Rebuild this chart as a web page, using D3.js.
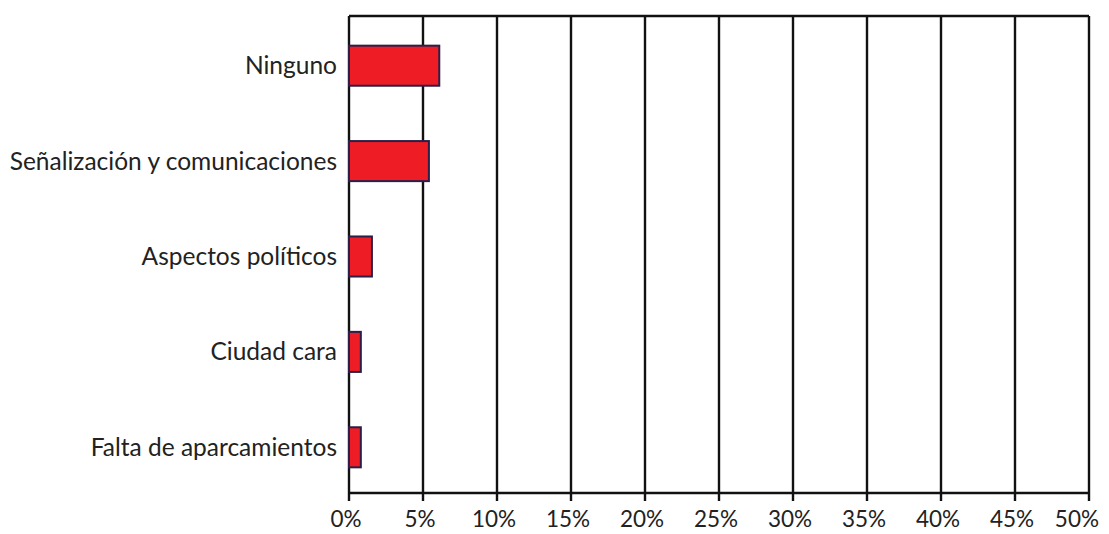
<!DOCTYPE html>
<html>
<head>
<meta charset="utf-8">
<script src="https://cdn.jsdelivr.net/npm/d3@7"></script>
<style>
  body { margin: 0; background: #fff; }
  svg { display: block; }
</style>
</head>
<body>
<div id="chart"></div>
<script>
const categories = ["Ninguno", "Señalización y comunicaciones", "Aspectos políticos", "Ciudad cara", "Falta de aparcamientos"];
const values = [6.1, 5.4, 1.55, 0.8, 0.8];
const ticks = [0, 5, 10, 15, 20, 25, 30, 35, 40, 45, 50];

const width = 1109;
const height = 534;
const margin = {top: 16, right: 20, bottom: 41, left: 349};

const svg = d3.select("#chart").append("svg")
  .attr("width", width)
  .attr("height", height)
  .style("font-family", "Lato, 'Open Sans', sans-serif");

const x = d3.scaleLinear()
  .domain([0, 50])
  .range([margin.left, width - margin.right]);

const y = d3.scaleBand()
  .domain(categories)
  .range([margin.top + 2, height - margin.bottom + 2])
  .paddingInner(0.58)
  .paddingOuter(0.29);

// vertical grid lines
svg.append("g")
  .selectAll("line")
  .data(ticks)
  .join("line")
  .attr("x1", d => x(d))
  .attr("x2", d => x(d))
  .attr("y1", margin.top)
  .attr("y2", height - margin.bottom + 8)
  .attr("stroke", "#111")
  .attr("stroke-width", 2.4);

// top and bottom frame
svg.append("line")
  .attr("x1", x(0)).attr("x2", x(50))
  .attr("y1", margin.top).attr("y2", margin.top)
  .attr("stroke", "#111").attr("stroke-width", 2.4);

svg.append("line")
  .attr("x1", x(0)).attr("x2", x(50))
  .attr("y1", height - margin.bottom).attr("y2", height - margin.bottom)
  .attr("stroke", "#111").attr("stroke-width", 2.4);

// bars
svg.append("g")
  .selectAll("rect")
  .data(values)
  .join("rect")
  .attr("x", x(0))
  .attr("y", (d, i) => y(categories[i]))
  .attr("width", d => x(d) - x(0))
  .attr("height", y.bandwidth())
  .attr("fill", "#ee1c25")
  .attr("stroke", "#2b1f4a")
  .attr("stroke-width", 2);

// category labels
svg.append("g")
  .selectAll("text")
  .data(categories)
  .join("text")
  .attr("x", margin.left - 12)
  .attr("y", d => y(d) + y.bandwidth() / 2)
  .attr("dy", "0.35em")
  .attr("text-anchor", "end")
  .attr("font-size", 24.5)
  .attr("fill", "#222")
  .text(d => d);

// tick labels (last one pulled in so it fits the page)
svg.append("g")
  .selectAll("text")
  .data(ticks)
  .join("text")
  .attr("x", d => d === 50 ? width - 10 : x(d) - 3)
  .attr("y", height - 7)
  .attr("text-anchor", d => d === 50 ? "end" : "middle")
  .attr("font-size", 22.5)
  .attr("fill", "#222")
  .text(d => d + "%");
</script>
</body>
</html>
